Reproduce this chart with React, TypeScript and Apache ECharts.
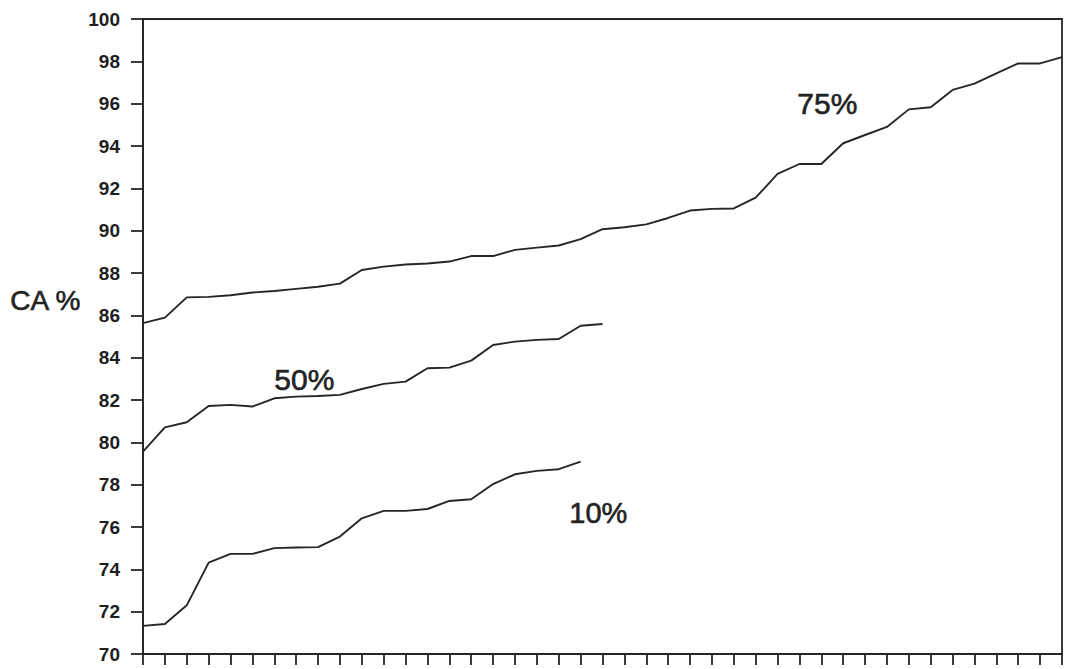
import React, { useEffect, useRef } from "react";
import * as echarts from "echarts";

// Sample positions along the x axis (one per tick, no labels)
const xSteps: number[] = Array.from({ length: 43 }, (_, i) => i);

// CA % curves by percentile
const p75: number[] = [
  85.63, 85.89, 86.85, 86.87, 86.95, 87.08, 87.15, 87.25, 87.35, 87.5,
  88.14, 88.3, 88.4, 88.45, 88.54, 88.8, 88.8, 89.09, 89.2, 89.3,
  89.6, 90.07, 90.16, 90.3, 90.6, 90.95, 91.03, 91.05, 91.56, 92.68,
  93.15, 93.15, 94.13, 94.52, 94.9, 95.73, 95.83, 96.65, 96.95, 97.43,
  97.9, 97.9, 98.2,
];
const p50: number[] = [
  79.56, 80.71, 80.95, 81.72, 81.77, 81.69, 82.08, 82.16, 82.19, 82.24,
  82.52, 82.76, 82.87, 83.5, 83.53, 83.86, 84.6, 84.76, 84.84, 84.88,
  85.51, 85.59,
];
const p10: number[] = [
  71.33, 71.42, 72.3, 74.32, 74.73, 74.73, 75.0, 75.03, 75.05, 75.55,
  76.41, 76.76, 76.76, 76.85, 77.23, 77.31, 78.03, 78.49, 78.65, 78.73,
  79.09,
];

const yTicks = { min: 70, max: 100, step: 2 };
const yTitle = "CA %";
const curveLabels = ["75%", "50%", "10%"];

const INK = "#262626";
const FONT = "'Liberation Sans', Arial, Helvetica, sans-serif";

const toPairs = (vals: number[]) => vals.map((v, i) => [xSteps[i], v]);

export default function App() {
  const ref = useRef<HTMLDivElement>(null);

  useEffect(() => {
    if (!ref.current) return;
    const chart = echarts.init(ref.current, undefined, { renderer: "svg" });

    const lineSeries = (name: string, vals: number[]) => ({
      name,
      type: "line",
      data: toPairs(vals),
      showSymbol: false,
      symbol: "none",
      lineStyle: { color: INK, width: 1.9 },
      silent: true,
    });

    // Curve captions, slightly heavier than plain regular weight
    const caption = (text: string, left: number, top: number, size: number) => ({
      type: "text",
      left,
      top,
      style: {
        text,
        fill: "#232323",
        stroke: "#232323",
        lineWidth: 0.6,
        font: `${size}px ${FONT}`,
      },
    });

    chart.setOption({
      animation: false,
      backgroundColor: "#ffffff",
      grid: {
        left: 143,
        right: 8,
        top: 19,
        bottom: 15,
        show: true,
        borderColor: INK,
        borderWidth: 1.8,
        backgroundColor: "transparent",
      },
      xAxis: {
        type: "value",
        min: 0,
        max: xSteps[xSteps.length - 1],
        interval: 1,
        axisLine: { show: true, lineStyle: { color: INK, width: 2 } },
        axisTick: { show: true, inside: false, length: 11, lineStyle: { color: INK, width: 1.8 } },
        axisLabel: { show: false },
        splitLine: { show: false },
      },
      yAxis: {
        type: "value",
        min: yTicks.min,
        max: yTicks.max,
        interval: yTicks.step,
        axisLine: { show: true, lineStyle: { color: INK, width: 2 } },
        axisTick: { show: true, inside: false, length: 12, lineStyle: { color: INK, width: 1.8 } },
        axisLabel: {
          show: true,
          margin: 23,
          color: "#1e1e1e",
          fontFamily: FONT,
          fontWeight: "bold",
          fontSize: 19,
        },
        splitLine: { show: false },
      },
      series: [
        lineSeries("75%", p75),
        lineSeries("50%", p50),
        lineSeries("10%", p10),
      ],
      graphic: [
        caption(yTitle, 10, 286, 28),
        caption(curveLabels[0], 797, 88, 30),
        caption(curveLabels[1], 274, 364, 30),
        caption(curveLabels[2], 569, 498, 29),
      ],
    });

    return () => chart.dispose();
  }, []);

  return (
    <div
      ref={ref}
      style={{ position: "absolute", left: 0, top: 0, width: 1070, height: 669, background: "#fff" }}
    />
  );
}
